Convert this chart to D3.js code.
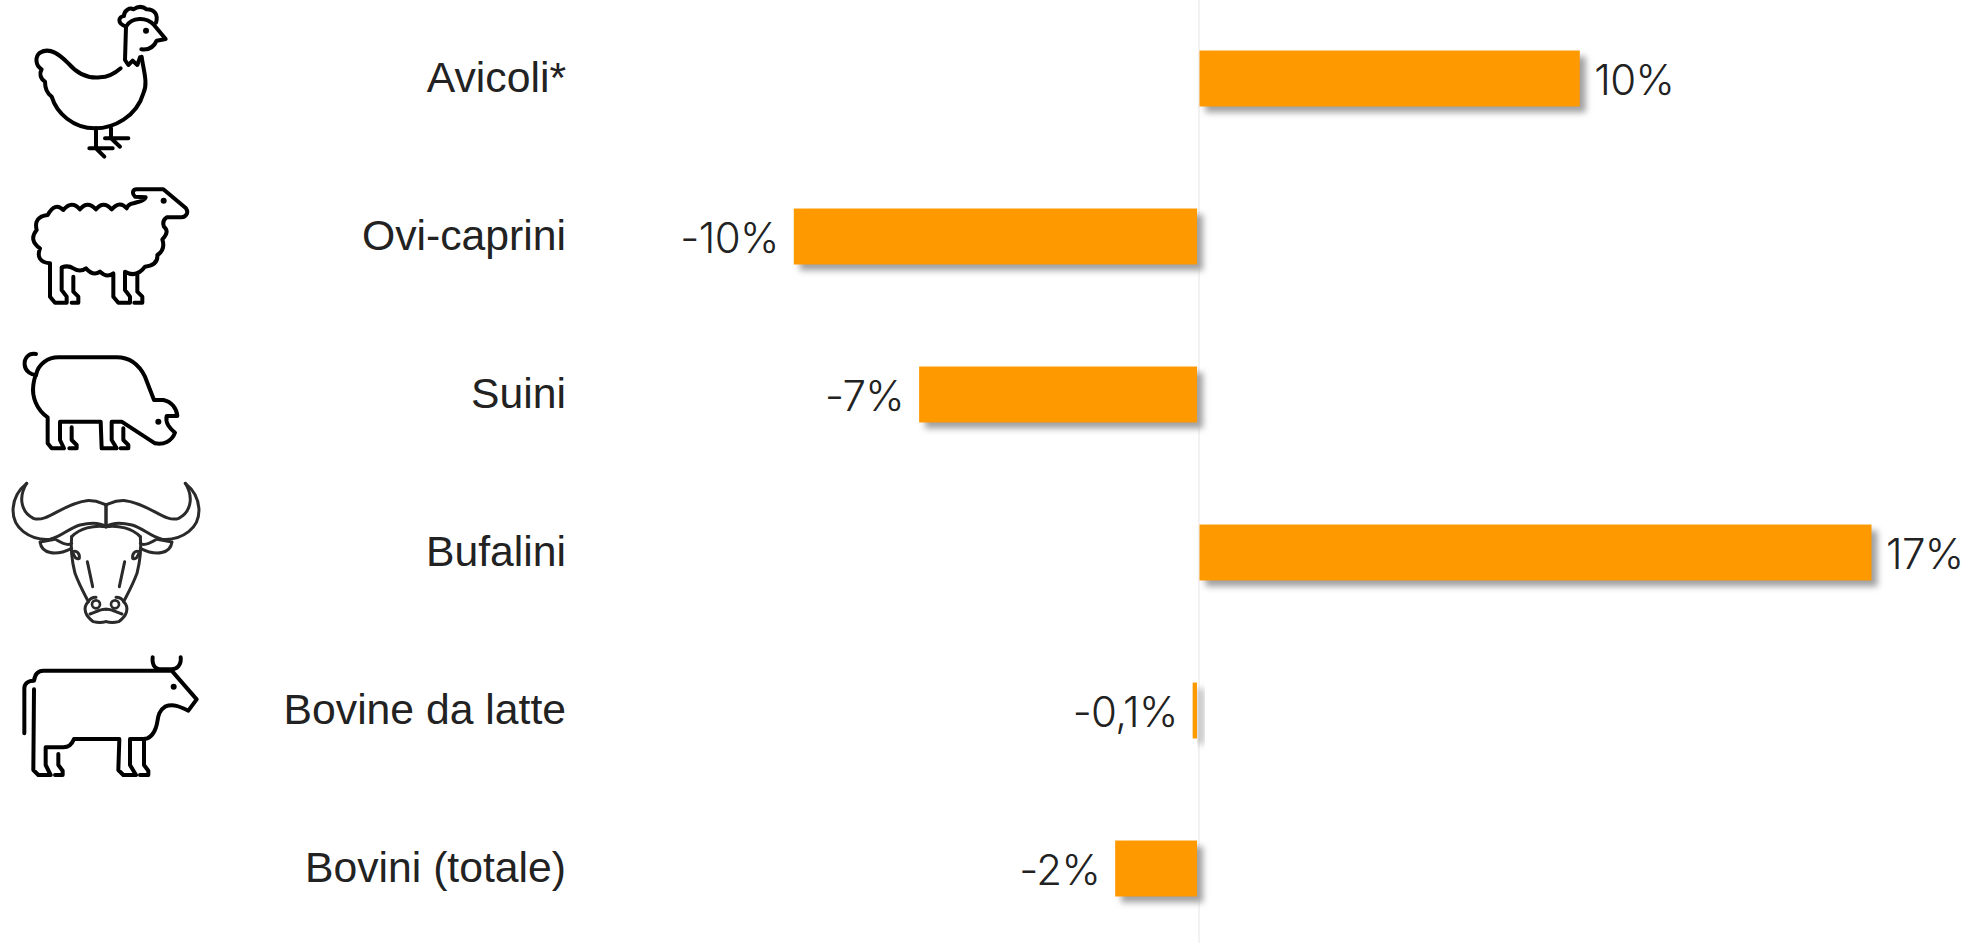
<!DOCTYPE html>
<html><head><meta charset="utf-8">
<script src="https://cdnjs.cloudflare.com/ajax/libs/d3/7.8.5/d3.min.js"></script>
<style>html,body{margin:0;padding:0;background:#fff;overflow:hidden}svg{display:block}</style>
</head><body><div id="chart"></div>
<script>
const categories = ["Avicoli*","Ovi-caprini","Suini","Bufalini","Bovine da latte","Bovini (totale)"];
const values = [9.62,-10.2,-7.03,17.0,-0.11,-2.07];
const valueLabels = ["10%","-10%","-7%","17%","-0,1%","-2%"];
const W=1965,H=943;
const iconHen=["M378,80C350,70 355,50 372,48C372,30 390,22 400,28C415,18 430,20 440,28C465,28 475,45 468,68","M378,80C395,50 440,50 462,75L497,117L470,122C460,145 440,150 424,148","M378,80L375,180L385,195L398,182L412,195L420,172","M425,170C430,210 445,250 430,280C410,350 340,385 285,385C220,385 170,340 155,290C135,275 135,255 135,245C120,235 118,220 125,208C105,195 105,170 120,158C150,140 180,165 205,190C235,225 270,235 300,232C325,232 345,220 362,205","M288,385L288,445M268,445L338,445M288,445L313,470M333,385L333,415M315,415L385,415M333,415L360,440"];
const iconSheep=["M437,592C430,606 415,604 400,610Q385,612 380,625Q360,600 335,628Q310,600 288,628Q262,600 240,628Q215,600 190,630Q165,605 143,645Q100,650 110,690Q85,720 120,745Q105,785 150,790L150,890L165,908L200,908L200,890L185,870L185,802Q205,795 220,805Q240,818 258,805Q280,830 300,815Q320,835 340,820L340,890L355,908L390,908L390,890L375,870L375,815Q410,835 435,800Q475,795 472,765Q497,750 487,718Q510,695 492,680Q485,662 500,652L545,652C555,652 568,640 558,625L490,568L410,568C398,568 395,580 405,590Z","M220,830L220,875L235,890L235,908L215,908","M412,825L412,875L427,890L427,908L403,908"];
const iconPig=["M108,42C85,38 72,55 74,75C76,95 95,105 108,105","M108,105C115,70 145,52 175,52L350,52C395,52 420,80 435,110L462,180L490,180C515,185 530,205 532,228L500,228C495,250 510,265 525,278C515,305 490,315 465,310L365,245L335,245L335,300L350,325L305,325L302,245L180,245L180,300L192,325L155,325L143,310L143,232C110,210 95,170 100,135C102,120 105,110 108,105Z","M215,262L215,300L230,315L230,325L208,325","M370,265L370,300L385,315L385,325L362,325"];
const iconBuffaloHalf=["M80,430C30,470 25,540 70,575C100,598 125,600 150,598C185,590 205,565 240,555C270,548 300,548 318,560","M80,430C50,480 70,520 100,535C140,550 190,490 260,482C290,480 305,490 318,495","M318,495L318,560","M120,606C125,640 165,650 215,625M120,606L165,598M170,600C190,612 205,618 215,610","M215,590C212,620 215,660 225,700C240,740 255,765 265,785C245,805 258,830 280,845C300,850 318,845 318,845","M215,590C240,565 280,555 318,560","M218,635C230,630 240,640 238,655C228,660 222,650 218,635","M262,665L278,740","M265,785C270,775 280,772 288,772M270,822C290,815 305,805 318,808"];
const iconCow=["M73,280L73,145C73,130 85,122 102,122C105,100 115,92 130,92L515,92L590,178L565,212C540,200 520,190 495,200C470,215 475,245 468,262C460,285 445,297 430,297L390,297L390,375L408,405L370,405L355,390L358,297L222,297C215,315 205,322 190,322L137,322L137,375L152,405L115,405L100,390L102,148","M458,52C455,80 470,88 480,88L515,88C530,88 545,75 542,52","M175,342L175,375L188,392L188,405L165,405","M432,300L432,375L445,392L445,405L420,405"];

const svg=d3.select("#chart").append("svg").attr("width",W).attr("height",H);
const f=svg.append("defs").append("filter").attr("id","sh").attr("x","-30%").attr("y","-30%").attr("width","160%").attr("height","160%");
f.append("feGaussianBlur").attr("stdDeviation",3);
const x=d3.scaleLinear().domain([0,17]).range([1199,1871]);
const y=d3.scaleBand().domain(categories).range([-0.5,947.5]).paddingInner(0.646).paddingOuter(0.323);

svg.append("line").attr("x1",x(0)).attr("x2",x(0)).attr("y1",0).attr("y2",H).attr("stroke","#eeeeee").attr("stroke-width",1.5);

const barX=d=>d<0?x(d)-2:x(0)+0.5, barW=d=>Math.abs(x(d)-x(0));
const rows=categories.map((c,i)=>({c,v:values[i],l:valueLabels[i]}));
svg.selectAll("rect.s").data(rows).join("rect").attr("class","s")
 .attr("x",d=>barX(d.v)+6).attr("y",d=>y(d.c)+6).attr("width",d=>barW(d.v)).attr("height",y.bandwidth())
 .attr("fill","#a0a0a0").attr("filter","url(#sh)");
svg.selectAll("rect.b").data(rows).join("rect").attr("class","b")
 .attr("x",d=>barX(d.v)).attr("y",d=>y(d.c)).attr("width",d=>barW(d.v)).attr("height",y.bandwidth())
 .attr("fill","#ff9900");
svg.selectAll("text.c").data(rows).join("text").attr("class","c")
 .attr("x",566).attr("y",d=>y(d.c)+y.bandwidth()/2).attr("dy","0.31em").attr("text-anchor","end")
 .attr("font-family","'Liberation Sans',Arial,sans-serif").attr("font-size",42.7).attr("fill","#222222").text(d=>d.c);
svg.selectAll("text.v").data(rows).join("text").attr("class","v")
 .attr("x",d=>d.v<0?x(d.v)-17:x(d.v)+15).attr("y",d=>y(d.c)+y.bandwidth()/2).attr("dy","0.40em")
 .attr("text-anchor",d=>d.v<0?"end":"start")
 .attr("font-family","Inter,sans-serif").attr("font-weight",340).attr("font-size",42).attr("letter-spacing",-0.6).attr("fill","#222222").text(d=>d.l);

function icon(paths,dy,dots,sw,color,mirror){
 const g=svg.append("g").attr("transform",`translate(0,${dy}) scale(${1/3})`);
 const draw=(gg)=>{gg.selectAll("path").data(paths).join("path").attr("d",d=>d).attr("fill","none")
  .attr("stroke",color).attr("stroke-width",sw).attr("stroke-linecap","round").attr("stroke-linejoin","round");};
 draw(g.append("g"));
 if(mirror) draw(g.append("g").attr("transform","translate(636,0) scale(-1,1)"));
 g.selectAll("circle").data(dots).join("circle").attr("cx",d=>d[0]).attr("cy",d=>d[1]).attr("r",d=>d[2])
  .attr("fill",d=>d[3]?"none":color).attr("stroke",d=>d[3]?color:"none").attr("stroke-width",8);
}
icon(iconHen,0,[[438,92,9]],12,"#000");
icon(iconSheep,0,[[491,602,9]],12,"#000");
icon(iconPig,340,[[475,245,9]],12,"#000");
icon(iconBuffaloHalf,340,[[288,793,12,1],[345,793,12,1]],9,"#2a2a2a",true);
icon(iconCow,640,[[521,140,9]],12,"#000");
</script></body></html>
